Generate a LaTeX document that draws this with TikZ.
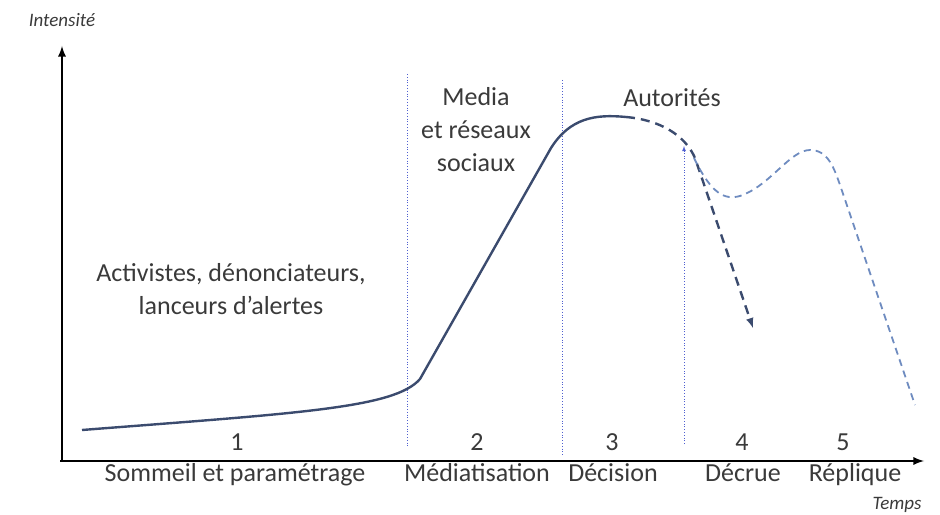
\documentclass[tikz,border=0pt]{standalone}
\usepackage{fontspec}
\setmainfont{Carlito}
\definecolor{txtgray}{HTML}{3A3A3A}
\definecolor{curveblue}{HTML}{3B4B6E}
\definecolor{lightblue}{HTML}{6F8CC0}
\definecolor{sepblue}{HTML}{4F5FD0}
\begin{document}
\begin{tikzpicture}[x=1bp,y=-1bp,
    every node/.style={text=txtgray,font=\fontsize{26bp}{33bp}\selectfont,align=center},
    small/.style={font=\fontsize{19bp}{22bp}\selectfont\itshape},
    phase/.style={anchor=base},
    axis/.style={line width=2.6bp,-latex},
    sep/.style={sepblue,line width=0.8bp,dotted},
    curve/.style={curveblue,line width=2.4bp}]
    \useasboundingbox (0,0) rectangle (940,515);

    % axes
    \coordinate (O)  at (62,461);
    \coordinate (Y)  at (62,46);
    \coordinate (X)  at (924,461);
    \draw [axis] (O) -- (Y);
    \draw [axis] ([xshift=-2bp]O) -- (X);
    \node [small] (int)   at (62,20)  {Intensité};
    \node [small] (temps) at (897,505) {Temps};

    % separations
    \coordinate (s1a) at (407,74);  \coordinate (s1b) at (407,447);
    \coordinate (s2a) at (562,80);  \coordinate (s2b) at (562,456);
    \coordinate (s3a) at (684,146); \coordinate (s3b) at (684,444);
    \draw [sep] (s1a) -- (s1b);
    \draw [sep] (s2a) -- (s2b);
    \draw [sep,-latex] (s3b) -- (s3a);

    % acteurs
    \node (activ) at (231,289) {Activistes, dénonciateurs,\\lanceurs d’alertes};
    \node (media) at (476,130) {Media\\et réseaux\\sociaux};
    \node (autor) at (672,98)  {Autorités};

    % phases
    \node [phase] (n1) at (237,450) {1};
    \node [phase] (n2) at (477,450) {2};
    \node [phase] (n3) at (612,450) {3};
    \node [phase] (n4) at (742,450) {4};
    \node [phase] (n5) at (843,450) {5};
    \node [phase] (p1) at (235,481) {Sommeil et paramétrage};
    \node [phase] (p2) at (477,481) {Médiatisation};
    \node [phase] (p3) at (613,481) {Décision};
    \node [phase] (p4) at (743,481) {Décrue};
    \node [phase] (p5) at (855,481) {Réplique};

    % courbe
    \draw [curve] (82,430) .. controls (300,413) and (395,408) .. (420,379)
        -- (551,148) .. controls (570,118) and (595,114) .. (626,117);
    \draw [curve,dashed,dash pattern=on 9bp off 6bp,-latex] (626,117)
        .. controls (660,120) and (685,135) .. (695,158) -- (753,328);
    \draw [lightblue,line width=1.8bp,dash pattern=on 7bp off 5bp] (694,158)
        .. controls (712,195) and (725,200) .. (740,196)
        .. controls (770,186) and (790,150) .. (810,150)
        .. controls (828,150) and (834,168) .. (840,185) -- (915,405);
\end{tikzpicture}
\end{document}
